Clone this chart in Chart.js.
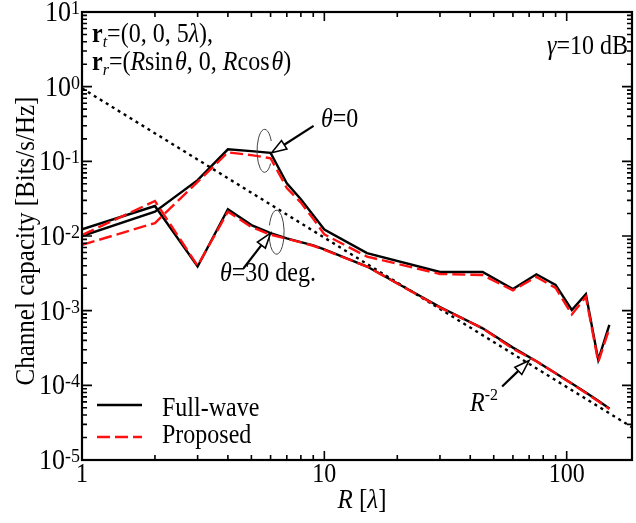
<!DOCTYPE html>
<html>
<head>
<meta charset="utf-8">
<script src="https://cdn.jsdelivr.net/npm/chart.js@4"></script>
<style>
  html, body { margin: 0; padding: 0; background: #fff; }
  canvas { display: block; }
</style>
</head>
<body>
<canvas id="chart" width="636" height="523"></canvas>
<script>
// distances R [lambda]
const R = [1, 2, 3, 4, 5, 6, 7, 8, 9, 10, 15, 30, 45, 60, 75, 90, 105, 120, 135, 150];

// channel capacity [Bits/s/Hz]
const fullWave0 = [0.0100, 0.0212, 0.056, 0.145, 0.137, 0.130, 0.0508, 0.031, 0.0190, 0.0122,
  0.0059, 0.0033, 0.0033, 0.00195, 0.00307, 0.00221, 0.00102, 0.00166, 0.000219, 0.000643];
const proposed0 = [0.0076, 0.0149, 0.053, 0.132, 0.121, 0.110, 0.044, 0.028, 0.017, 0.0105,
  0.0053, 0.0031, 0.0030, 0.00187, 0.00283, 0.00202, 0.00089, 0.00153, 0.000205, 0.00058];
const fullWave30 = [0.0123, 0.0252, 0.0039, 0.0228, 0.0140, 0.0109, 0.0093, 0.0083, 0.0075, 0.0066,
  0.0039, 0.00112, 0.00058, 0.00032, 0.00021, 0.000145, 0.000106, 0.000080, 0.000062, 0.000049];
const proposed30 = [0.0103, 0.0294, 0.0040, 0.0212, 0.0132, 0.0104, 0.0092, 0.0082, 0.0074, 0.0065,
  0.0039, 0.00110, 0.00058, 0.00031, 0.00021, 0.000145, 0.000105, 0.000079, 0.000061, 0.000048];

// R^-2 reference line end points
const refR = [1, 200];
const refC = [0.95, 0.95 / 40000];

const xTickLabels = ['1', '10', '100'];
const yExponents = [1, 0, -1, -2, -3, -4, -5];

const SERIF = "'Liberation Serif', 'Times New Roman', serif";
const RED = '#ff1010';
const SY = 1.1; // text in the figure is a little taller than wide

const pts = (xs, ys) => xs.map((x, i) => ({x, y: ys[i]}));

// draws a row of text pieces with their own fonts, returns end x
function runs(ctx, x, y, parts) {
  for (const p of parts) {
    ctx.font = p.font;
    ctx.save();
    ctx.translate(x, y + (p.dy || 0));
    ctx.scale(1, SY);
    ctx.fillText(p.t, 0, 0);
    ctx.restore();
    x += ctx.measureText(p.t).width + (p.gap || 0);
  }
  return x;
}
function runsWidth(ctx, parts) {
  let w = 0;
  for (const p of parts) {
    ctx.font = p.font;
    w += ctx.measureText(p.t).width + (p.gap || 0);
  }
  return w;
}

function arrow(ctx, x0, y0, x1, y1) {
  const ang = Math.atan2(y1 - y0, x1 - x0);
  const len = 15, hw = 5;
  const bx = x1 - len * Math.cos(ang), by = y1 - len * Math.sin(ang);
  ctx.lineWidth = 2.2;
  ctx.beginPath();
  ctx.moveTo(x0, y0);
  ctx.lineTo(bx, by);
  ctx.stroke();
  ctx.beginPath();
  ctx.moveTo(x1, y1);
  ctx.lineTo(bx + hw * Math.sin(ang), by - hw * Math.cos(ang));
  ctx.lineTo(bx - hw * Math.sin(ang), by + hw * Math.cos(ang));
  ctx.closePath();
  ctx.fillStyle = '#fff';
  ctx.fill();
  ctx.lineWidth = 1.6;
  ctx.stroke();
  ctx.fillStyle = '#000';
}

const frame = {
  id: 'frame',
  afterDraw(chart) {
    const {ctx, chartArea: a, scales: {x, y}} = chart;
    ctx.save();
    ctx.strokeStyle = '#000';
    ctx.fillStyle = '#000';

    // ticks, all pointing inwards
    ctx.lineWidth = 1.6;
    ctx.beginPath();
    for (const e of yExponents) {
      for (let k = 1; k <= 9; k++) {
        const v = k * Math.pow(10, e);
        if (v > y.max * 1.0001) break;
        const py = y.getPixelForValue(v);
        const len = k === 1 ? 10 : 5;
        ctx.moveTo(a.left, py); ctx.lineTo(a.left + len, py);
        ctx.moveTo(a.right, py); ctx.lineTo(a.right - len, py);
      }
    }
    for (let e = 0; e <= 2; e++) {
      for (let k = 1; k <= 9; k++) {
        const v = k * Math.pow(10, e);
        if (v > x.max) break;
        const px = x.getPixelForValue(v);
        const len = k === 1 ? 9 : 5;
        ctx.moveTo(px, a.bottom); ctx.lineTo(px, a.bottom - len);
        ctx.moveTo(px, a.top); ctx.lineTo(px, a.top + len);
      }
    }
    ctx.stroke();

    ctx.lineWidth = 2.2;
    ctx.strokeRect(a.left, a.top, a.right - a.left, a.bottom - a.top);

    // y tick labels 10^n
    ctx.textBaseline = 'alphabetic';
    ctx.textAlign = 'left';
    for (const e of yExponents) {
      const py = y.getPixelForValue(Math.pow(10, e));
      const parts = [
        {t: '10', font: `26px ${SERIF}`},
        {t: String(e), font: `18px ${SERIF}`, dy: -7}
      ];
      const w = runsWidth(ctx, parts);
      runs(ctx, 80 - w, py + 9, parts);
    }

    // x tick labels
    xTickLabels.forEach(t => {
      const parts = [{t, font: `24px ${SERIF}`}];
      runs(ctx, x.getPixelForValue(Number(t)) - runsWidth(ctx, parts) / 2, 482, parts);
    });

    // axis titles
    const xt = [
      {t: 'R', font: `italic 25px ${SERIF}`},
      {t: ' [', font: `25px ${SERIF}`},
      {t: 'λ', font: `italic 25px ${SERIF}`},
      {t: ']', font: `25px ${SERIF}`}
    ];
    runs(ctx, 362 - runsWidth(ctx, xt) / 2, 508, xt);

    ctx.save();
    ctx.translate(34, 241);
    ctx.rotate(-Math.PI / 2);
    ctx.scale(1, SY);
    ctx.textAlign = 'center';
    ctx.font = `25px ${SERIF}`;
    ctx.fillText('Channel capacity [Bits/s/Hz]', 0, 0);
    ctx.restore();

    // setup text
    ctx.textAlign = 'left';
    const f = `24px ${SERIF}`, fi = `italic 24px ${SERIF}`, fb = `bold 24px ${SERIF}`;
    const fs = `italic 16px ${SERIF}`;
    runs(ctx, 92, 42, [
      {t: 'r', font: fb}, {t: 't', font: fs, dy: 5},
      {t: '=(0, 0, 5', font: f}, {t: 'λ', font: fi}, {t: '),', font: f}
    ]);
    runs(ctx, 92, 70, [
      {t: 'r', font: fb}, {t: 'r', font: fs, dy: 5},
      {t: '=(', font: f}, {t: 'R', font: fi}, {t: 'sin', font: f, gap: 2}, {t: 'θ', font: fi},
      {t: ', 0, ', font: f}, {t: 'R', font: fi}, {t: 'cos', font: f, gap: 2}, {t: 'θ', font: fi},
      {t: ')', font: f}
    ]);
    const g = [{t: 'γ', font: fi}, {t: '=10 dB', font: f}];
    runs(ctx, 628 - runsWidth(ctx, g), 54, g);

    // annotations
    runs(ctx, 321, 127, [{t: 'θ', font: fi}, {t: '=0', font: f}]);
    runs(ctx, 220, 281, [{t: 'θ', font: fi}, {t: '=30 deg.', font: f}]);
    runs(ctx, 470, 411, [{t: 'R', font: fi}, {t: '-2', font: `16px ${SERIF}`, dy: -11}]);

    const t1x = x.getPixelForValue(6), t1y = y.getPixelForValue(fullWave0[5]);
    const t2x = x.getPixelForValue(6), t2y = y.getPixelForValue(fullWave30[5]);
    const t3x = x.getPixelForValue(70), t3y = y.getPixelForValue(0.000215);

    ctx.strokeStyle = '#444';
    ctx.lineWidth = 1;
    ctx.beginPath();
    ctx.ellipse(t1x - 6, t1y - 2, 7.5, 21.5, 0, 0.2 * Math.PI, 1.85 * Math.PI);
    ctx.stroke();
    ctx.beginPath();
    ctx.ellipse(t2x + 6, t2y - 1, 7.5, 22, 0, 1.1 * Math.PI, 0.95 * Math.PI);
    ctx.stroke();

    ctx.strokeStyle = '#000';
    arrow(ctx, t1x + 43, t1y - 27, t1x + 1, t1y);
    arrow(ctx, t2x - 27, t2y + 35, t2x, t2y);
    arrow(ctx, t3x - 27, t3y + 26, t3x, t3y);

    // legend
    ctx.lineWidth = 2.4;
    ctx.beginPath();
    ctx.moveTo(97, 405); ctx.lineTo(142, 405);
    ctx.stroke();
    ctx.strokeStyle = RED;
    ctx.lineWidth = 2.4;
    ctx.setLineDash([13, 5]);
    ctx.beginPath();
    ctx.moveTo(97, 437); ctx.lineTo(142, 437);
    ctx.stroke();
    ctx.setLineDash([]);
    runs(ctx, 162, 416, [{t: 'Full-wave', font: f}]);
    runs(ctx, 162, 443, [{t: 'Proposed', font: f}]);

    ctx.restore();
  }
};

const solid = {borderColor: '#000', borderWidth: 2.4, pointRadius: 0, tension: 0, fill: false};
const dashed = {borderColor: RED, borderWidth: 2.4, borderDash: [13, 5], pointRadius: 0, tension: 0, fill: false};

new Chart(document.getElementById('chart'), {
  type: 'line',
  data: {
    datasets: [
      {label: 'Proposed, θ=0', data: pts(R, proposed0), ...dashed},
      {label: 'Proposed, θ=30 deg.', data: pts(R, proposed30), ...dashed},
      {label: 'Full-wave, θ=0', data: pts(R, fullWave0), ...solid},
      {label: 'Full-wave, θ=30 deg.', data: pts(R, fullWave30), ...solid},
      {label: 'R^-2', data: pts(refR, refC), borderColor: '#000', borderWidth: 2.4,
        borderDash: [3, 4], pointRadius: 0, fill: false}
    ]
  },
  options: {
    responsive: false,
    animation: false,
    layout: {padding: {left: 82, right: 4, top: 12, bottom: 63}},
    plugins: {legend: {display: false}, tooltip: {enabled: false}},
    scales: {
      x: {
        type: 'logarithmic', min: 1, max: 186,
        grid: {display: false}, border: {display: false}, ticks: {display: false},
        afterFit: s => { s.height = 0; }
      },
      y: {
        type: 'logarithmic', min: 1e-5, max: 10,
        grid: {display: false}, border: {display: false}, ticks: {display: false},
        afterFit: s => { s.width = 0; }
      }
    }
  },
  plugins: [frame]
});
</script>
</body>
</html>
